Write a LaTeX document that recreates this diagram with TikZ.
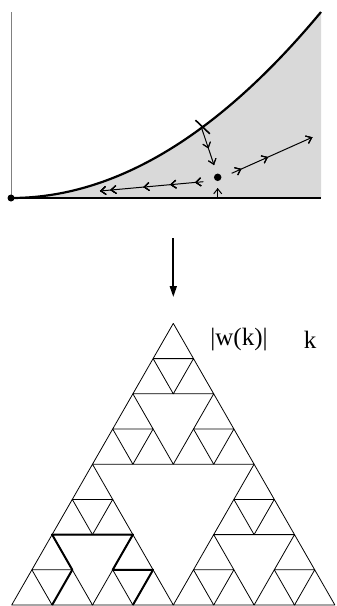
\documentclass[tikz,border=0pt]{standalone}
\usepackage{fontspec}
\setmainfont{Liberation Serif}
\usetikzlibrary{arrows.meta, decorations.markings}

\begin{document}
\begin{tikzpicture}[
    x=1pt, y=-1pt,
    axis_line/.style={gray, line width=0.9pt},
    border_line/.style={line width=2.2pt},
    flow/.style={line width=1pt},
    tip_at/.style={postaction={decorate},
            decoration={markings, mark=at position #1 with {\arrow{Straight Barb[length=5pt, width=8pt, line width=1pt]}}}},
    big_arrow/.style={line width=1.8pt, -{Triangle[length=11pt, width=7pt]}},
    tri/.style={line width=0.8pt, line join=round},
    walk/.style={line width=2pt, line join=round}
    ]
    \useasboundingbox (0,0) rectangle (337,606);

    % --- Phase plane ---
    \coordinate (origin) at (11,198);
    \coordinate (corner) at (321,198);
    \coordinate (curve_end) at (321,12);
    \coordinate (axis_top) at (11,12);

    \fill[black!15] (origin) .. controls (114.6,198) and (217.9,136) .. (curve_end) -- (corner) -- cycle;
    \draw[axis_line] (origin) -- (axis_top);
    \draw[border_line] (origin) -- (corner);
    \draw[border_line] (origin) .. controls (114.6,198) and (217.9,136) .. (curve_end);

    \coordinate (cross) at (201.7,128.3);
    \draw[line width=1.6pt] (195.5,120.2) -- (209.8,133.8);

    \node[circle, fill, inner sep=0pt, minimum size=7.5pt] (fixed) at (217.7,177.3) {};
    \fill (origin) circle (3.5);

    % --- Flow arrows ---
    \coordinate (drop_end) at (214,165);
    \coordinate (left_start) at (203.3,181.7);
    \coordinate (left_end) at (100,191);
    \coordinate (right_start) at (231.7,173.3);
    \coordinate (right_end) at (312.3,137.3);
    \coordinate (floor) at (217.7,198);
    \coordinate (rise_end) at (217.7,188);

    \draw[flow, tip_at=0.55, tip_at=1] (cross) -- (drop_end);
    \draw[flow, tip_at=0.08, tip_at=0.32, tip_at=0.58, tip_at=0.9, tip_at=1] (left_start) -- (left_end);
    \draw[flow, tip_at=0.12, tip_at=0.45, tip_at=1] (right_start) -- (right_end);
    \draw[flow, tip_at=1] (floor) -- (rise_end);

    % --- Map arrow ---
    \coordinate (map_top) at (173.3,238);
    \coordinate (map_bottom) at (173.3,297);
    \draw[big_arrow] (map_top) -- (map_bottom);

    % --- Sierpinski gasket ---
    \begin{scope}[x={(40.4pt,0pt)}, y={(20.2pt,35.2pt)}, shift={(11.7pt,-605pt)}]
        \foreach \p/\q in {0/0, 4/0, 0/4}
        \foreach \r/\t in {0/0, 2/0, 0/2}
        \foreach \u/\v in {0/0, 1/0, 0/1}
        \draw[tri] ({\p+\r+\u},{\q+\t+\v}) -- ++(1,0) -- ++(-1,1) -- cycle;

        \draw[walk] (1,0) -- (1,1) -- (0,2) -- (2,2) -- (2,1) -- (3,1) -- (3,0);
    \end{scope}

    % --- Labels ---
    \node[font=\fontsize{25}{27}\selectfont] (norm) at (239,340) {|w(k)|};
    \node[font=\fontsize{25}{27}\selectfont] (index) at (310,340) {k};

\end{tikzpicture}
\end{document}
